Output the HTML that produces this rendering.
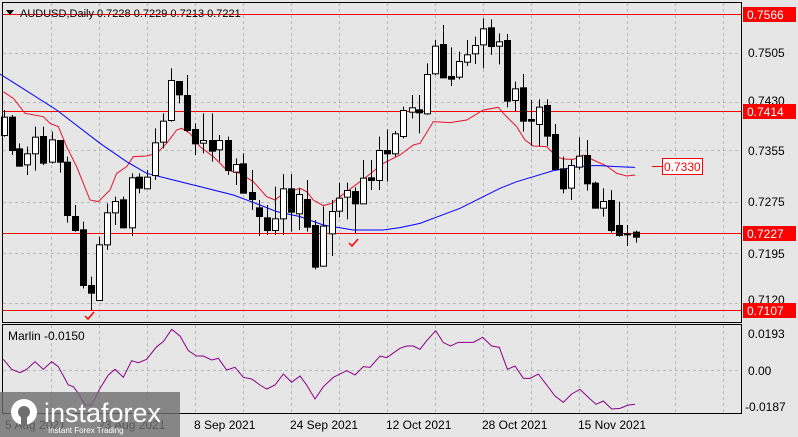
<!DOCTYPE html>
<html><head><meta charset="utf-8"><style>
html,body{margin:0;padding:0;background:#e6e6e6;}
svg{display:block;font-family:"Liberation Sans",sans-serif;}
</style></head><body>
<svg id="s" width="798" height="437" xmlns="http://www.w3.org/2000/svg">
<rect width="798" height="437" fill="#e6e6e6"/>
<g id="grid" stroke="#b8b8b8" stroke-dasharray="3,3" stroke-width="1"></g>
<g id="lvl"></g>
<g id="ma"></g>
<g id="cdl"></g>
<rect x="2.5" y="2.5" width="739" height="320" fill="none" stroke="#000"/>
<rect x="2.5" y="324.5" width="739" height="89" fill="none" stroke="#000"/>
<g font-size="12" fill="#000">
<text x="20" y="17" font-size="11">AUDUSD,Daily  0.7228 0.7229 0.7213 0.7221</text>
<polygon points="6,10 14,10 10,15" fill="#000"/>
<text x="748" y="57">0.7505</text>
<text x="748" y="105">0.7430</text>
<text x="748" y="155">0.7355</text>
<text x="748" y="206">0.7275</text>
<text x="748" y="258">0.7195</text>
<text x="748" y="304">0.7120</text>
<text x="8" y="340">Marlin -0.0150</text>
<text x="748" y="338">0.0193</text>
<text x="748" y="375">0.00</text>
<text x="745" y="411">-0.0187</text>
<text x="5" y="429">5 Aug 2021</text>
<text x="98" y="429">23 Aug 2021</text>
<text x="194" y="429">8 Sep 2021</text>
<text x="290" y="429">24 Sep 2021</text>
<text x="386" y="429">12 Oct 2021</text>
<text x="482" y="429">28 Oct 2021</text>
<text x="578" y="429">15 Nov 2021</text>
</g>
<g id="lbl" font-size="12"></g>
<g>
<rect x="0" y="392" width="180" height="45" fill="#6e6e6e" opacity="0.8"/>
<circle cx="24" cy="412" r="13" fill="#fff"/>
<circle cx="24" cy="412" r="6" fill="#6e6e6e"/>
<rect x="21" y="412" width="6" height="14" fill="#6e6e6e"/>
<text x="44" y="422" font-size="27" fill="#fff">instaforex</text>
<text x="48" y="433" font-size="8" fill="#fff">Instant Forex Trading</text>
</g>
</svg>
<script>
var NS="http://www.w3.org/2000/svg";
function el(p,t,a,txt){var e=document.createElementNS(NS,t);for(var k in a)e.setAttribute(k,a[k]);if(txt)e.textContent=txt;document.getElementById(p).appendChild(e);return e;}
// grid
for(var x=51;x<741;x+=48){el("grid","line",{x1:x+.5,y1:3,x2:x+.5,y2:322});el("grid","line",{x1:x+.5,y1:325,x2:x+.5,y2:413});}
[53,102,150,202,253,303].forEach(function(y){el("grid","line",{x1:3,y1:y+.5,x2:741,y2:y+.5});});
el("grid","line",{x1:3,y1:370.5,x2:741,y2:370.5});
// levels
[14,111,233,310].forEach(function(y){el("lvl","line",{x1:3,y1:y+.5,x2:741,y2:y+.5,stroke:"#f00","stroke-width":1});});
// candles (3x coords): [x3, white?, bt,bb,wt,wb]
var z1=[[12,1,350,405,330,410],[35,0,350,450,345,465],[58,0,445,497,430,500],[80,1,460,493,440,525],[105,1,410,460,380,512],[130,0,408,488,380,495],[155,1,418,485,395,490],[180,0,420,485,420,518],[200,0,485,645,470,668],[225,0,648,690,615,695],[250,0,688,855,665,865],[273,0,855,878,830,930],[297,1,733,900,710,900],[322,1,637,733,610,750],[345,1,603,637,590,675],[370,0,598,682,590,685],[395,1,532,682,520,708],[418,0,530,563,520,580],[440,1,530,565,510,565],[465,1,427,525,385,540],[488,1,362,425,340,445],[512,1,240,360,205,365],[538,0,243,283,243,310],[562,0,285,390,225,395],[585,0,387,430,370,465],[610,1,420,428,340,460],[635,0,420,452,340,485],[658,1,420,448,405,485],[683,0,420,510,410,525],[707,1,492,515,475,555],[730,0,490,578,460,580],[755,0,576,597,510,630],[778,0,622,648,600,708],[802,0,652,690,615,705],[826,1,655,690,560,705],[850,1,565,655,522,705],[873,0,565,635,522,695],[897,1,582,640,565,690],[920,0,597,680,540,695],[945,0,675,800,660,808],[970,1,677,797,620,800],[995,1,633,700,600,768],[1018,1,593,632,548,652],[1042,1,570,590,548,658],[1066,0,573,610,562,700],[1090,1,533,610,480,610],[1113,0,532,540,480,570],[1138,1,450,540,410,570],[1162,0,450,460,388,545],[1185,1,400,460,393,470]];
var z2=[[10,1,330,408,320,415],[35,1,322,335,285,355],[58,0,328,337,285,400],[82,1,222,340,190,345],[105,1,137,220,120,225],[130,0,132,232,75,235],[153,0,228,236,142,258],[178,1,183,230,155,238],[202,1,163,185,120,198],[226,1,135,160,110,192],[250,1,85,133,55,205],[273,0,82,138,58,165],[297,1,124,137,100,193],[322,0,120,302,102,322],[346,1,265,300,245,335],[370,0,262,362,222,395],[394,0,357,362,300,438],[418,1,320,372,298,438],[442,0,315,407,298,438],[466,0,402,507,372,507],[490,0,505,565,470,580],[514,1,495,563,478,600],[538,1,467,500,412,510],[562,0,465,550,420,572],[586,0,548,623,545,625],[610,1,603,623,565,650],[634,0,600,690,570,698],[658,0,675,705,605,710],[682,0,700,703,675,738],[707,0,695,710,692,728]];
function cd(x,w,bt,bb,wt,wb){
 x=Math.round(x);
 el("cdl","line",{x1:x+.5,y1:wt,x2:x+.5,y2:wb,stroke:"#000"});
 var h=Math.max(1,bb-bt);
 el("cdl","rect",{x:x-2.5,y:bt+.5,width:6,height:h,fill:w?"#fff":"#000",stroke:"#000"});
}
z1.forEach(function(c){cd(c[0]/3,c[1],c[2]/3,c[3]/3,c[4]/3,c[5]/3);});
z2.forEach(function(c){cd(400+c[0]/3,c[1],c[2]/3,c[3]/3,c[4]/3,c[5]/3);});
function pl(a,b,off,yoff,col){var p=a.map(function(q){return (q[0]/3)+","+(q[1]/3+yoff)}).concat(b.map(function(q){return (400+q[0]/3)+","+(q[1]/3+yoff)}));el("ma","polyline",{points:p.join(" "),fill:"none",stroke:col,"stroke-width":1});}
pl([[10,275],[40,295],[75,340],[130,350],[150,370],[175,380],[200,440],[230,500],[270,600],[295,605],[330,570],[350,520],[380,500],[400,470],[440,468],[470,460],[500,430],[530,390],[545,385],[570,400],[600,440],[640,470],[680,510],[720,520],[760,545],[800,590],[825,600],[850,580],[900,565],[920,575],[940,600],[970,617],[995,610],[1020,590],[1060,560],[1100,530],[1150,490],[1200,465]],[[40,435],[60,430],[100,365],[150,368],[200,360],[250,330],[295,322],[310,340],[350,380],[375,420],[400,438],[440,440],[470,470],[490,477],[520,478],[550,465],[580,480],[620,498],[650,520],[680,528],[705,525]],0,0,"#e8102c");
pl([[0,222],[60,260],[170,330],[300,430],[380,485],[440,520],[520,540],[600,560],[700,585],[780,615],[830,635],[900,650],[970,675],[1060,690],[1150,690],[1200,683]],[[60,670],[100,655],[180,625],[250,590],[300,565],[350,545],[400,530],[460,512],[520,502],[570,497],[600,497],[650,500],[705,502]],0,0,"#0000ff");
pl([[10,178],[35,208],[60,218],[80,208],[105,185],[130,208],[155,185],[175,200],[205,255],[220,260],[235,280],[255,315],[275,315],[300,265],[325,225],[345,208],[370,232],[395,182],[415,188],[440,178],[470,140],[490,125],[515,88],[540,108],[565,152],[590,168],[610,168],[635,180],[655,175],[680,210],[705,202],[730,232],[755,237],[780,255],[800,267],[825,255],[850,222],[875,247],[900,228],[920,255],[945,297],[970,260],[1000,232],[1040,212],[1065,225],[1090,200],[1110,202],[1140,168],[1160,173],[1200,145]],[[20,138],[40,138],[60,148],[80,122],[107,92],[130,128],[152,138],[175,127],[220,127],[248,112],[275,138],[298,142],[322,208],[345,198],[370,235],[390,235],[415,222],[440,255],[465,288],[490,307],[515,282],[540,268],[565,292],[588,313],[610,303],[635,327],[660,325],[685,315],[705,313]],0,300,"#8b008b");
// checkmarks
el("ma","path",{d:"M85,316 l3,3 l6,-7",fill:"none",stroke:"#f00","stroke-width":1.5});
el("ma","path",{d:"M349,243 l3,3 l6,-7",fill:"none",stroke:"#f00","stroke-width":1.5});
// labels
[[14,"0.7566"],[111,"0.7414"],[233,"0.7227"],[310,"0.7107"]].forEach(function(l){
 el("lbl","rect",{x:743,y:l[0]-7,width:53,height:15,fill:"#f00"});
 el("lbl","text",{x:747,y:l[0]+5,fill:"#fff"},l[1]);
});
el("lbl","line",{x1:652,y1:166.5,x2:662,y2:166.5,stroke:"#f00"});
el("lbl","rect",{x:662.5,y:158.5,width:40,height:16,fill:"#fff",stroke:"#f00"});
el("lbl","text",{x:664,y:171,fill:"#f00"},"0.7330");
</script>
</body></html>
